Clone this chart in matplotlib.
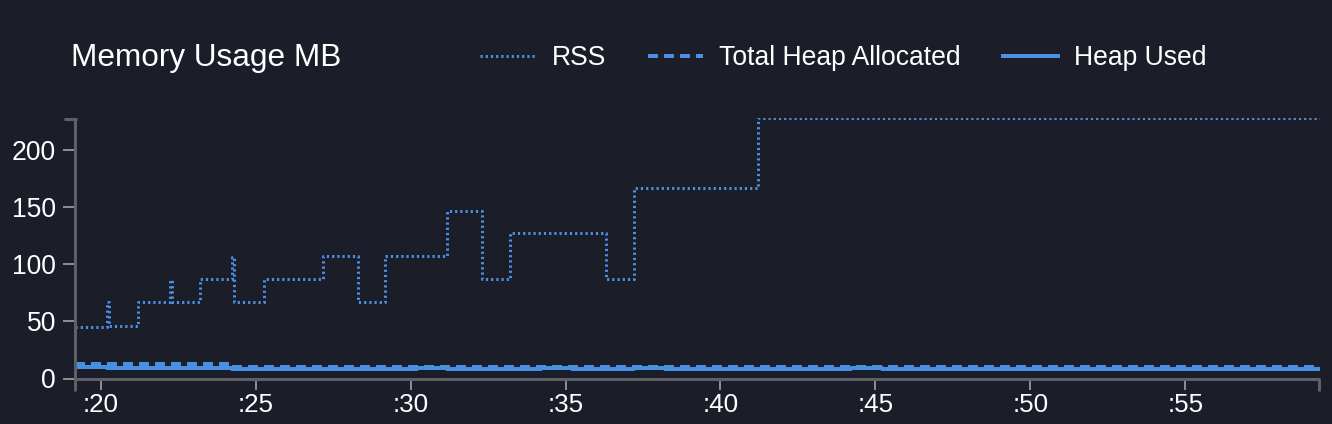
import matplotlib
matplotlib.use('Agg')
import matplotlib.pyplot as plt
from matplotlib.lines import Line2D
from matplotlib.ticker import FixedLocator, FuncFormatter

# sample times in seconds (of the minute)
times = [19.17, 20.20, 20.28, 21.20, 22.24, 22.30, 23.20, 24.24, 24.30, 25.26,
         26.20, 27.16, 28.30, 29.16, 30.20, 31.16, 32.30, 33.20, 34.20, 35.20,
         36.30, 37.20, 38.20, 39.20, 40.20, 41.20, 42.20, 43.20, 44.20, 45.20,
         46.20, 47.20, 48.20, 49.20, 50.20, 51.20, 52.20, 53.20, 54.20, 55.20,
         56.20, 57.20, 58.20, 59.20, 59.35]

rss = [45, 67, 46, 67, 86, 67, 87, 106, 67, 87,
       87, 107, 67, 107, 107, 147, 87, 127, 127, 127,
       87, 167, 167, 167, 167, 228, 228, 228, 228, 228,
       228, 228, 228, 228, 228, 228, 228, 228, 228, 228,
       228, 228, 228, 228, 228]

heap_total = [12.5, 12.5, 12.5, 12.5, 12.5, 12.5, 12.5, 10.3, 10.3, 10.3,
              10.3, 10.3, 10.3, 10.3, 10.3, 10.3, 10.3, 10.3, 10.3, 10.3,
              10.3, 10.3, 10.3, 10.3, 10.3, 10.3, 10.3, 10.3, 10.3, 10.3,
              10.3, 10.3, 10.3, 10.3, 10.3, 10.3, 10.3, 10.3, 10.3, 10.3,
              10.3, 10.3, 10.3, 10.3, 10.3]

heap_used = [9.8, 9.0, 9.0, 9.0, 9.1, 9.1, 9.2, 8.3, 8.3, 8.5,
             8.6, 8.2, 8.4, 8.6, 8.8, 8.3, 8.5, 8.7, 8.9, 8.4,
             8.6, 8.8, 8.3, 8.5, 8.7, 8.2, 8.4, 8.6, 8.8, 8.3,
             8.5, 8.7, 8.3, 8.5, 8.7, 8.2, 8.4, 8.6, 8.2, 8.4,
             8.6, 8.2, 8.4, 8.6, 8.6]

y_ticks = [0, 50, 100, 150, 200]
x_ticks = [20, 25, 30, 35, 40, 45, 50, 55]

BG = '#1b1e28'
BLUE = '#4a90e2'
AXIS = '#5d6067'
TICK = '#8c8c8c'
PX = 72 / 100  # points per pixel at dpi 100

plt.rcParams['font.family'] = ['Liberation Sans', 'DejaVu Sans']
plt.rcParams['lines.scale_dashes'] = False

W, H = 1332, 424
fig = plt.figure(figsize=(W / 100, H / 100), dpi=100, facecolor=BG)
left, right, top, bottom = 75, 1320, 118, 378.5
ax = fig.add_axes([left / W, 1 - bottom / H, (right - left) / W, (bottom - top) / H])
ax.set_facecolor(BG)

ax.plot(times, rss, drawstyle='steps-post', color=BLUE, lw=3 * PX,
        dashes=(2.2 * PX, 3 * PX), label='RSS')
ax.plot(times, heap_total, drawstyle='steps-post', color=BLUE, lw=4 * PX,
        dashes=(10 * PX, 6 * PX), label='Total Heap Allocated')
ax.plot(times, heap_used, drawstyle='steps-post', color=BLUE, lw=4 * PX,
        label='Heap Used')

ax.set_xlim(times[0], times[-1])
ax.set_ylim(0, max(rss))

for side in ['top', 'right']:
    ax.spines[side].set_visible(False)
for side in ['left', 'bottom']:
    ax.spines[side].set_color(AXIS)
    ax.spines[side].set_linewidth(3 * PX)
    ax.spines[side].set_capstyle('butt')

ax.yaxis.set_major_locator(FixedLocator(y_ticks))
ax.xaxis.set_major_locator(FixedLocator(x_ticks))
ax.xaxis.set_major_formatter(FuncFormatter(lambda v, p: ':%d' % v))
ax.tick_params(axis='y', length=12 * PX, width=2 * PX, color=TICK,
               labelcolor='white', labelsize=26.5 * PX, pad=7 * PX)
ax.tick_params(axis='x', length=11 * PX, width=2 * PX, color=TICK,
               labelcolor='white', labelsize=26 * PX, pad=4 * PX)

# outer ticks at the ends of the axis lines
def px_line(xs, ys):
    fig.add_artist(Line2D([x / W for x in xs], [1 - y / H for y in ys],
                          color=AXIS, lw=3 * PX, solid_capstyle='butt'))

px_line([64, left + 1.5], [top + 1, top + 1])
px_line([left, left], [bottom, bottom + 12])
px_line([right - 1.5, right - 1.5], [bottom, bottom + 12])

fig.text(71 / W, 1 - 58 / H, 'Memory Usage MB', color='white',
         fontsize=31.5 * PX, va='center', ha='left')

leg = fig.legend(loc='center left', bbox_to_anchor=(480 / W, 1 - 58 / H),
                 ncol=3, frameon=False, fontsize=26.5 * PX, borderpad=0,
                 borderaxespad=0, handlelength=2.1, handletextpad=0.6,
                 columnspacing=1.58)
for t in leg.get_texts():
    t.set_color('white')

fig.savefig('out.png', dpi=100, facecolor=BG)
